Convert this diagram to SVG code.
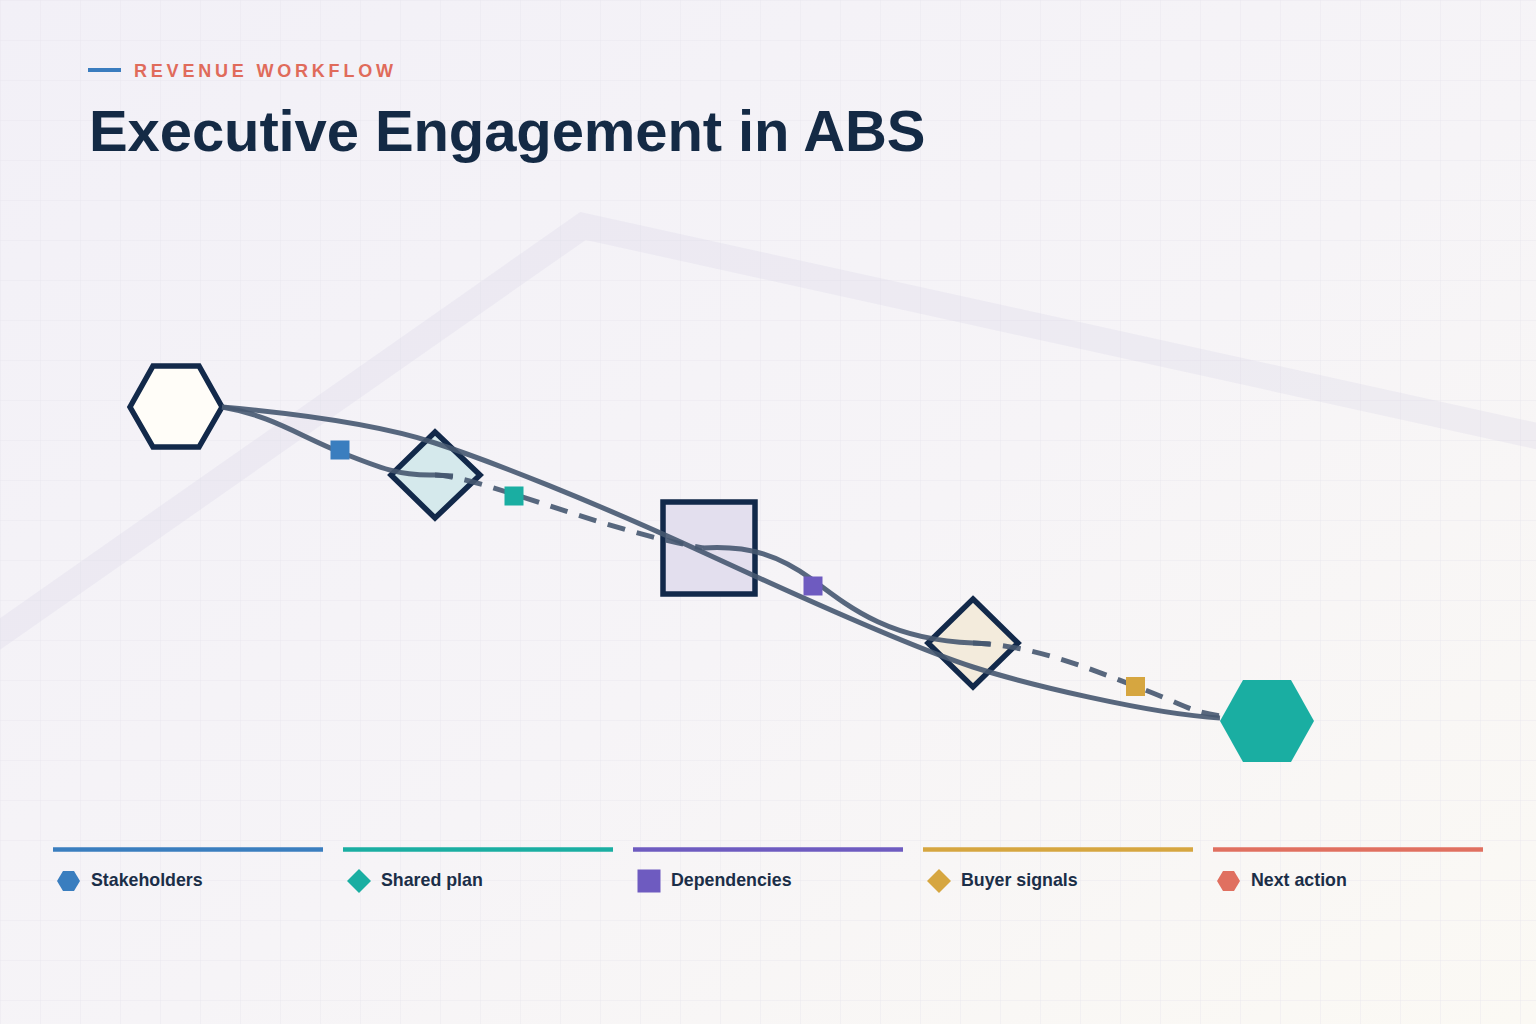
<svg xmlns="http://www.w3.org/2000/svg" width="1536" height="1024" viewBox="0 0 1536 1024">
  <defs>
    <linearGradient id="bg" x1="0" y1="0" x2="1" y2="1">
      <stop offset="0" stop-color="#f2f0f7"/>
      <stop offset="0.55" stop-color="#f6f4f7"/>
      <stop offset="1" stop-color="#fbf9f4"/>
    </linearGradient>
    <pattern id="grid" width="40" height="40" patternUnits="userSpaceOnUse">
      <path d="M40 0 L0 0 L0 40" fill="none" stroke="#e6e3ec" stroke-width="1" opacity="0.7"/>
    </pattern>
    <style>
      .node { stroke: #12294a; stroke-width: 5.5; stroke-linejoin: miter; }
      .edge { fill: none; stroke: #465870; stroke-width: 5; stroke-opacity: 0.9; stroke-linecap: butt; }
      .dash { stroke-dasharray: 18 12; }
      .legline { stroke-width: 4.5; }
      .legtext { font-family: "Liberation Sans", Arial, sans-serif; font-weight: bold; font-size: 17.8px; fill: #1b2e48; }
    </style>
  </defs>

  <rect width="1536" height="1024" fill="url(#bg)"/>
  <rect width="1536" height="1024" fill="url(#grid)"/>
  <polyline points="-10,641 583,226 1550,439" fill="none" stroke="#d9d4e6" stroke-opacity="0.28" stroke-width="26" stroke-linejoin="miter"/>

  <g id="header">
    <line x1="88" y1="70" x2="121" y2="70" stroke="#3b7dbf" stroke-width="4"/>
    <text x="134" y="77" font-family="Liberation Sans, Arial, sans-serif" font-weight="bold" font-size="18" letter-spacing="3.8" fill="#e06b5b">REVENUE WORKFLOW</text>
    <text x="89" y="151" font-family="Liberation Sans, Arial, sans-serif" font-weight="bold" font-size="58" letter-spacing="-0.1" fill="#142a45">Executive Engagement in ABS</text>
  </g>

  <g id="node-1">
    <polygon class="node" points="130,407 153,366 199,366 222,407 199,447 153,447" fill="#fffdf8"/>
  </g>
  <g id="node-2">
    <polygon class="node" points="435,432 480,475 435,518 391,475" fill="#d5e9ec"/>
  </g>
  <g id="node-3">
    <rect class="node" x="663" y="502" width="92" height="92" fill="#e3dfee"/>
  </g>
  <g id="node-4">
    <polygon class="node" points="973,599 1018,643 973,687 928,643" fill="#f3ebdc"/>
  </g>
  <g id="node-5">
    <polygon points="1220,721 1243,680 1291,680 1314,721 1291,762 1243,762" fill="#1aaea2"/>
  </g>

  <g id="connectors">
    <path class="edge" d="M222,407 C300,414 380,425 435,443 S590,500 709,555 S920,650 973,667 S1150,714 1220,718"/>
    <path class="edge" d="M222,407 C270,415 300,436 340,452 S400,476 435,475 L453,476"/>
    <path class="edge dash" d="M435,475 C480,476 600,530 703,548"/>
    <path class="edge" d="M703,548 C750,545 780,556 813,580 C850,608 890,640 973,643 L990,644"/>
    <path class="edge dash" d="M973,643 C1030,645 1080,665 1135,686 S1190,712 1222,716"/>
    <rect x="330.5" y="440.5" width="19" height="19" fill="#3a7ebf"/>
    <rect x="504.5" y="486.5" width="19" height="19" fill="#1aaea2"/>
    <rect x="803.5" y="576.5" width="19" height="19" fill="#6e5bc0"/>
    <rect x="1126" y="677" width="19" height="19" fill="#d6a640"/>
  </g>

  <g id="legend">
    <g id="legend-stakeholders">
      <line class="legline" x1="53" y1="849.5" x2="323" y2="849.5" stroke="#3a7ebf"/>
      <polygon points="57,881 63,871 74,871 80,881 74,891 63,891" fill="#3a7ebf"/>
      <text class="legtext" x="91" y="886">Stakeholders</text>
    </g>
    <g id="legend-shared-plan">
      <line class="legline" x1="343" y1="849.5" x2="613" y2="849.5" stroke="#1aaea2"/>
      <polygon points="359,869 371,881 359,893 347,881" fill="#1aaea2"/>
      <text class="legtext" x="381" y="886">Shared plan</text>
    </g>
    <g id="legend-dependencies">
      <line class="legline" x1="633" y1="849.5" x2="903" y2="849.5" stroke="#6e5bc0"/>
      <rect x="637.5" y="869.5" width="23" height="23" fill="#6e5bc0"/>
      <text class="legtext" x="671" y="886">Dependencies</text>
    </g>
    <g id="legend-buyer-signals">
      <line class="legline" x1="923" y1="849.5" x2="1193" y2="849.5" stroke="#d6a640"/>
      <polygon points="939,869 951,881 939,893 927,881" fill="#d6a640"/>
      <text class="legtext" x="961" y="886">Buyer signals</text>
    </g>
    <g id="legend-next-action">
      <line class="legline" x1="1213" y1="849.5" x2="1483" y2="849.5" stroke="#e07060"/>
      <polygon points="1217,881 1223,871 1234,871 1240,881 1234,891 1223,891" fill="#e07060"/>
      <text class="legtext" x="1251" y="886">Next action</text>
    </g>
  </g>
</svg>
